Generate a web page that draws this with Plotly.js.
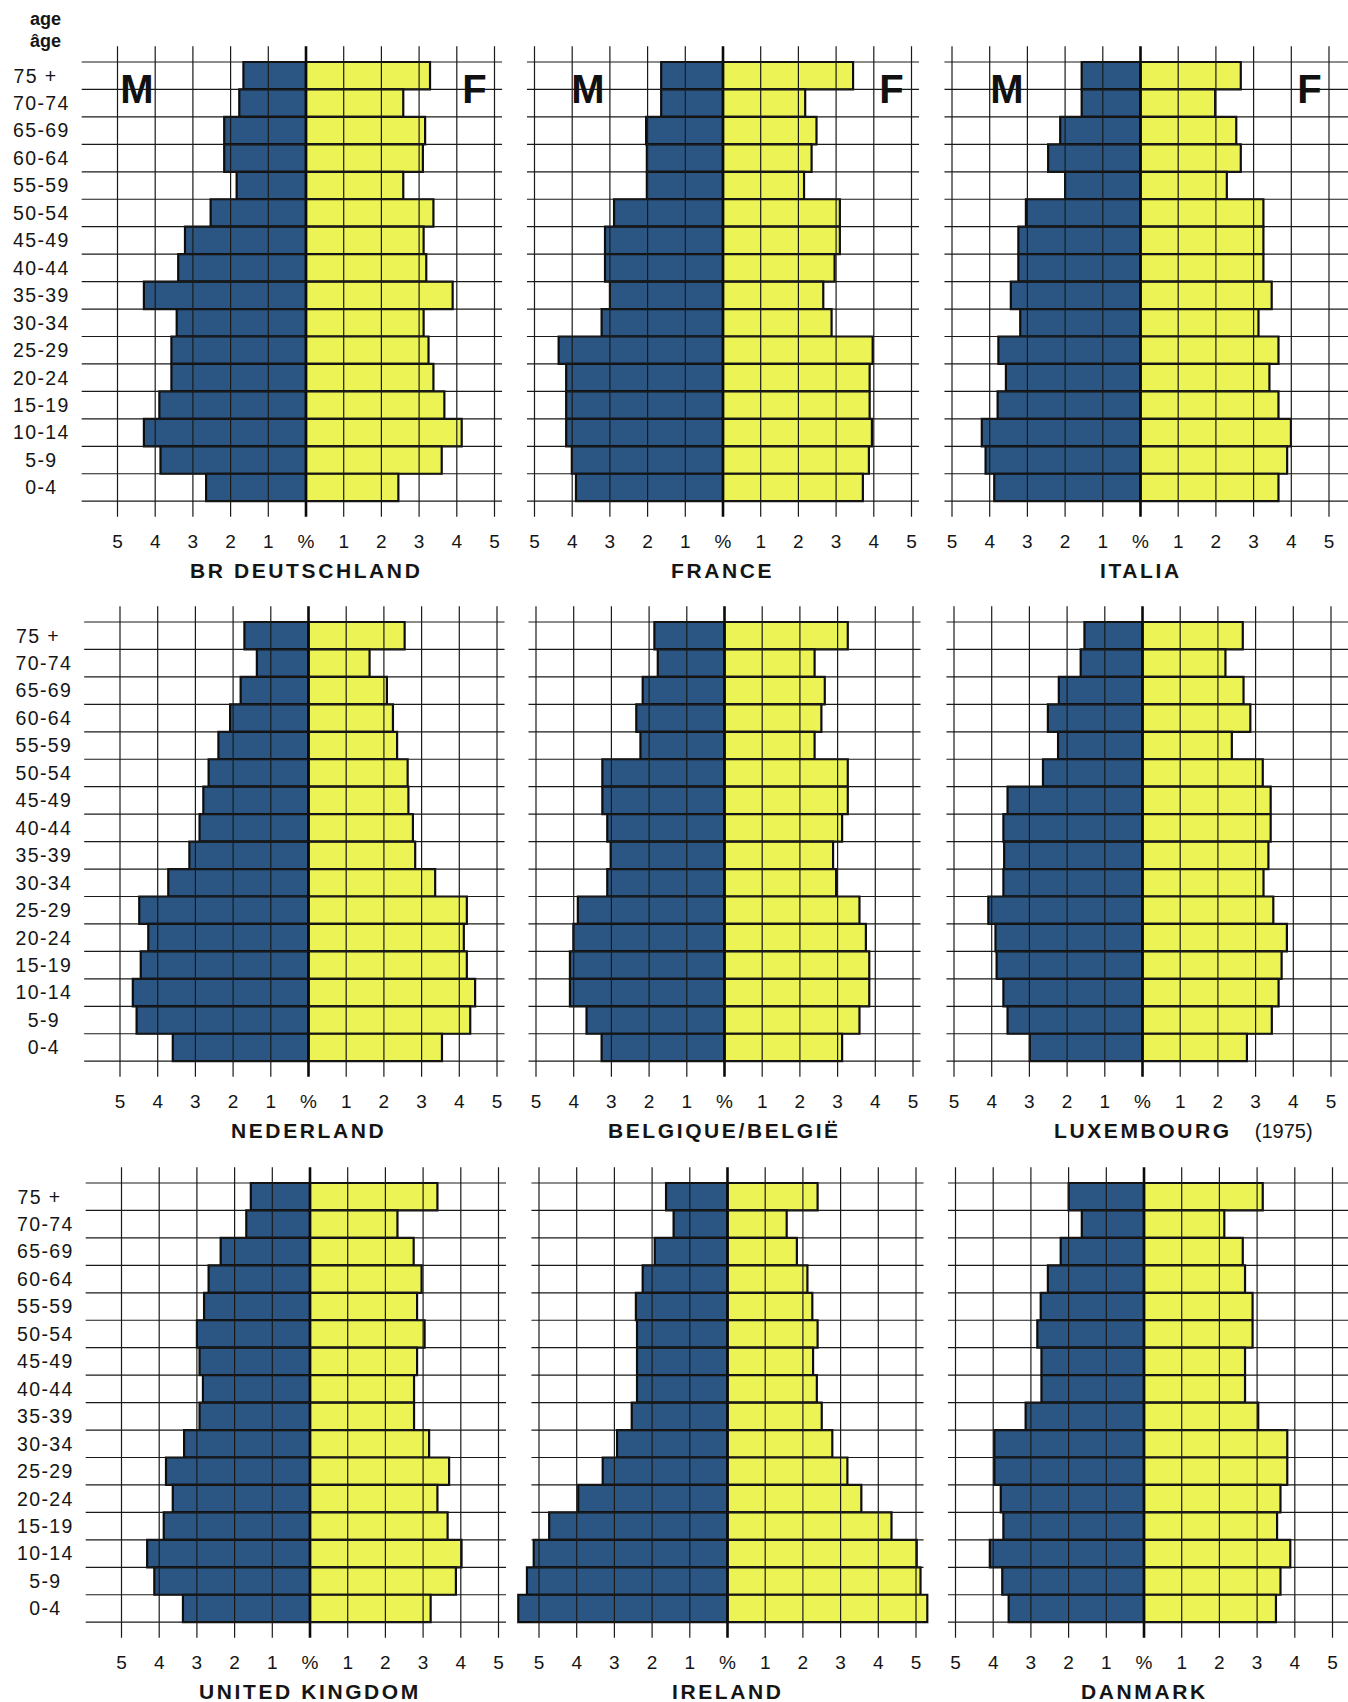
<!DOCTYPE html>
<html><head><meta charset="utf-8">
<script src="https://cdn.plot.ly/plotly-3.0.1.min.js"></script>
<style>
body{margin:0;background:#fff}
.yaxislayer-above text{letter-spacing:1.4px}
.annotation-text{letter-spacing:2.6px}
.annotation[data-index="0"] .annotation-text,.annotation[data-index="1"] .annotation-text,.annotation[data-index="2"] .annotation-text,
.annotation[data-index="3"] .annotation-text,.annotation[data-index="4"] .annotation-text,.annotation[data-index="5"] .annotation-text,
.annotation[data-index="6"] .annotation-text,.annotation[data-index="7"] .annotation-text,.annotation[data-index="8"] .annotation-text{letter-spacing:0}
</style></head>
<body><div id="chart" style="width:1348px;height:1702px"></div>
<script>
// ---- data (percent of population), rows from top (75 +) to bottom (0-4) ----
const ages = ["75 +\u2007","70-74","65-69","60-64","55-59","50-54","45-49","40-44","35-39","30-34","25-29","20-24","15-19","10-14","5-9\u2007","0-4\u2007"];
const xTickLabels = ["5","4","3","2","1","%","1","2","3","4","5"];
const countries = ["BR DEUTSCHLAND","FRANCE","ITALIA","NEDERLAND","BELGIQUE/BELGIË","LUXEMBOURG","UNITED KINGDOM","IRELAND","DANMARK"];

const deM = [1.66,1.77,2.17,2.17,1.84,2.53,3.21,3.39,4.30,3.43,3.57,3.57,3.89,4.30,3.86,2.65];
const deF = [3.29,2.58,3.16,3.10,2.58,3.38,3.12,3.19,3.89,3.12,3.25,3.38,3.67,4.13,3.60,2.45];
const frM = [1.64,1.64,2.04,2.02,2.02,2.89,3.13,3.13,3.00,3.22,4.36,4.16,4.16,4.16,4.01,3.90];
const frF = [3.45,2.18,2.48,2.35,2.15,3.10,3.10,2.96,2.66,2.88,3.97,3.89,3.89,3.95,3.87,3.71];
const itM = [1.56,1.56,2.13,2.45,2.00,3.04,3.24,3.24,3.44,3.19,3.77,3.57,3.79,4.21,4.11,3.88];
const itF = [2.66,1.98,2.54,2.66,2.29,3.26,3.26,3.26,3.48,3.13,3.66,3.42,3.66,3.99,3.89,3.66];
const nlM = [1.70,1.37,1.80,2.08,2.39,2.65,2.79,2.89,3.16,3.72,4.49,4.25,4.45,4.66,4.56,3.60];
const nlF = [2.55,1.62,2.08,2.24,2.35,2.63,2.65,2.77,2.83,3.36,4.20,4.12,4.20,4.42,4.29,3.54];
const beM = [1.86,1.77,2.17,2.34,2.23,3.24,3.24,3.11,3.02,3.11,3.89,4.01,4.10,4.10,3.66,3.26];
const beF = [3.27,2.39,2.66,2.57,2.39,3.27,3.27,3.12,2.88,2.96,3.58,3.75,3.84,3.84,3.58,3.12];
const luM = [1.54,1.64,2.22,2.51,2.24,2.64,3.58,3.69,3.67,3.69,4.09,3.90,3.87,3.69,3.58,2.99];
const luF = [2.66,2.20,2.68,2.86,2.37,3.19,3.40,3.40,3.34,3.21,3.47,3.83,3.69,3.61,3.43,2.77];
const ukM = [1.57,1.69,2.37,2.69,2.81,3.00,2.93,2.84,2.93,3.34,3.82,3.64,3.88,4.32,4.13,3.37];
const ukF = [3.38,2.32,2.75,2.96,2.84,3.04,2.84,2.76,2.76,3.16,3.69,3.38,3.65,4.02,3.87,3.20];
const ieM = [1.63,1.43,1.93,2.25,2.43,2.40,2.40,2.40,2.54,2.93,3.31,3.96,4.73,5.14,5.32,5.55];
const ieF = [2.39,1.57,1.84,2.12,2.25,2.39,2.27,2.37,2.50,2.78,3.18,3.55,4.35,5.02,5.12,5.30];
const dkM = [2.00,1.65,2.21,2.55,2.74,2.83,2.72,2.72,3.14,3.97,3.97,3.80,3.73,4.09,3.76,3.59];
const dkF = [3.15,2.13,2.62,2.68,2.88,2.88,2.68,2.68,3.03,3.80,3.80,3.62,3.53,3.88,3.62,3.50];

const maleSeries = [deM, frM, itM, nlM, beM, luM, ukM, ieM, dkM];
const femaleSeries = [deF, frF, itF, nlF, beF, luF, ukF, ieF, dkF];

// ---- geometry (pixels) ----
const W = 1348, H = 1702;
const CX = [[306,723,1140.5],[308.5,724.5,1142.5],[310,727.5,1144]];
const TY = [62, 622, 1183];
const U = 37.7, RH = 27.45, EXT = 0.57;
const BLUE = '#2b5683', YELLOW = '#ecf355', GRID = '#1a1a1a';
const FONT = 'Liberation Sans, Arial, Helvetica, sans-serif';
const TXT = '#151515';

const data = [];
const layout = {
  width: W, height: H, margin: {l:0, r:0, t:0, b:0},
  paper_bgcolor: '#ffffff', plot_bgcolor: 'rgba(0,0,0,0)',
  showlegend: false, barmode: 'overlay', hovermode: false,
  font: {family: FONT, color: TXT},
  shapes: [], annotations: []
};
const idx = ages.map((_, i) => i);
const xTicks = [-5,-4,-3,-2,-1,0,1,2,3,4,5];

// annotations first: non-spaced ones (indices 0..8)
layout.annotations.push({text:'<b>age</b>', xref:'paper', yref:'paper', x:67/W, y:1-19.5/H, xanchor:'right', yanchor:'middle', showarrow:false, font:{size:18, color:TXT}});
layout.annotations.push({text:'<b>âge</b>', xref:'paper', yref:'paper', x:67/W, y:1-41/H, xanchor:'right', yanchor:'middle', showarrow:false, font:{size:18, color:TXT}});
layout.annotations.push({text:'(1975)', xref:'paper', yref:'paper', x:1245/W, y:1-(TY[1]+508.5)/H, xanchor:'left', yanchor:'middle', showarrow:false, font:{size:20, color:TXT}});
const mfPos = [[-4.49, 4.46], [-3.57, 4.46], [-3.55, 4.49]];

for (let k = 0; k < 9; k++) {
  const r = Math.floor(k / 3), c = k % 3;
  const cx = CX[r][c];
  const xa = k === 0 ? 'x' : 'x' + (k + 1), ya = k === 0 ? 'y' : 'y' + (k + 1);
  const xKey = k === 0 ? 'xaxis' : 'xaxis' + (k + 1), yKey = k === 0 ? 'yaxis' : 'yaxis' + (k + 1);
  const lo = c === 0 ? -6.0 : (c === 1 ? -5.7 : -5.25);
  const hi = c === 0 ? 5.25 : (c === 1 ? 5.45 : (W - cx) / U);
  const gl = c === 0 ? -5.95 : -5.2;
  const gr = c === 2 ? hi : 5.2;
  const top = TY[r] - EXT * RH, bot = TY[r] + 16 * RH + EXT * RH;

  layout[xKey] = {
    domain: [(cx + lo * U) / W, Math.min(1, (cx + hi * U) / W)], range: [lo, hi], anchor: ya,
    tickvals: xTicks, ticktext: xTickLabels, showgrid: false, zeroline: false, showline: false,
    ticks: '', ticklabelstandoff: 11, tickfont: {size: 19, color: TXT, family: FONT}, fixedrange: true
  };
  layout[yKey] = {
    domain: [1 - bot / H, 1 - top / H], range: [15.5 + EXT, -0.5 - EXT], anchor: xa,
    tickvals: idx, ticktext: ages, showticklabels: c === 0, showgrid: false, zeroline: false,
    showline: false, ticks: '', ticklabelstandoff: 9, tickfont: {size: 19.5, color: TXT, family: FONT}, fixedrange: true
  };

  data.push({type:'bar', orientation:'h', y: idx, x: maleSeries[k].map(v => -v), width: 1,
    xaxis: xa, yaxis: ya, marker: {color: BLUE, line: {color: '#0d0d0d', width: 2.2}}, hoverinfo: 'skip'});
  data.push({type:'bar', orientation:'h', y: idx, x: femaleSeries[k], width: 1,
    xaxis: xa, yaxis: ya, marker: {color: YELLOW, line: {color: '#0d0d0d', width: 2.2}}, hoverinfo: 'skip'});

  // grid drawn above the bars
  xTicks.forEach(v => layout.shapes.push({type:'line', xref: xa, yref: ya + ' domain', x0: v, x1: v, y0: 0, y1: 1,
    layer: 'above', line: {color: v === 0 ? '#0a0a0a' : GRID, width: v === 0 ? 2.6 : 1.2}}));
  for (let j = 0; j <= 16; j++) layout.shapes.push({type:'line', xref: xa, yref: ya, x0: gl, x1: gr, y0: j - 0.5, y1: j - 0.5,
    layer: 'above', line: {color: GRID, width: 1.2}});

  if (r === 0) {
    layout.annotations.push({text:'<b>M</b>', xref: xa, yref: ya, x: mfPos[c][0], y: 0.5, showarrow:false, xanchor:'center', yanchor:'middle', font:{size:40, color:'#111'}});
    layout.annotations.push({text:'<b>F</b>', xref: xa, yref: ya, x: mfPos[c][1], y: 0.5, showarrow:false, xanchor:'center', yanchor:'middle', font:{size:40, color:'#111'}});
  }
}
// country titles (letter-spaced)
for (let k = 0; k < 9; k++) {
  const r = Math.floor(k / 3), c = k % 3;
  layout.annotations.push({text: '<b>' + countries[k] + '</b>', xref:'paper', yref:'paper', x: CX[r][c] / W, y: 1 - (TY[r] + 508.5) / H,
    xanchor:'center', yanchor:'middle', showarrow:false, font:{size:21, color:TXT}});
}

Plotly.newPlot('chart', data, layout, {staticPlot: true, displayModeBar: false});
</script></body></html>
